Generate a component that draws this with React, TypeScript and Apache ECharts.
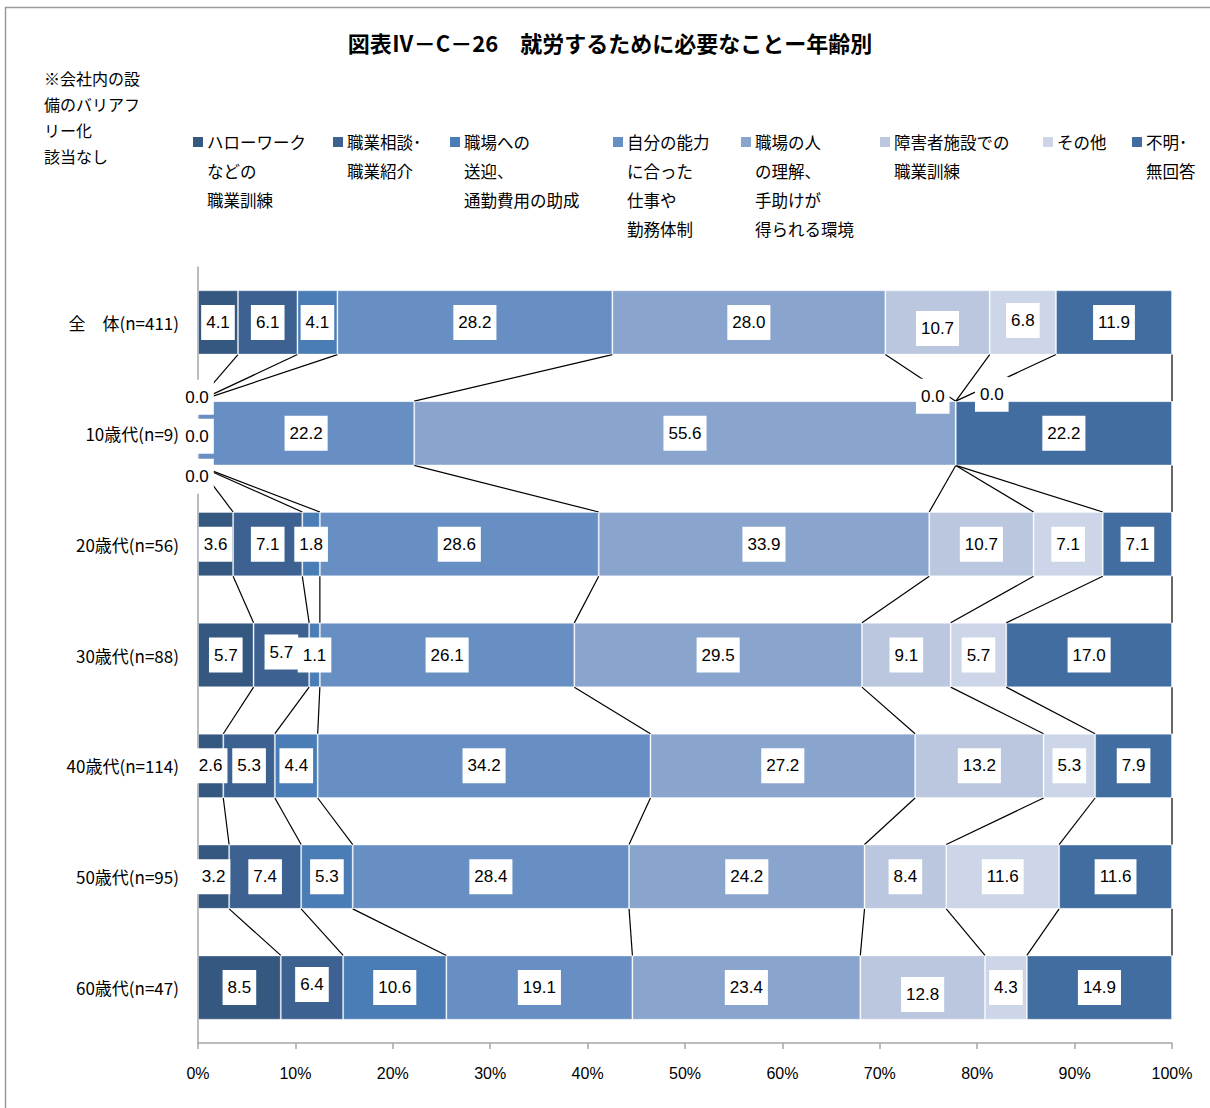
import React, { useEffect, useRef } from "react";
import * as echarts from "echarts";

const categories = [
  "全　体(n=411)",
  "10歳代(n=9)",
  "20歳代(n=56)",
  "30歳代(n=88)",
  "40歳代(n=114)",
  "50歳代(n=95)",
  "60歳代(n=47)",
];

const seriesNames = [
  "ハローワーク\nなどの\n職業訓練",
  "職業相談･\n職業紹介",
  "職場への\n送迎、\n通勤費用の助成",
  "自分の能力\nに合った\n仕事や\n勤務体制",
  "職場の人\nの理解、\n手助けが\n得られる環境",
  "障害者施設での\n職業訓練",
  "その他",
  "不明･\n無回答",
];

const helloWork = [4.1, 0.0, 3.6, 5.7, 2.6, 3.2, 8.5];
const consult = [6.1, 0.0, 7.1, 5.7, 5.3, 7.4, 6.4];
const commute = [4.1, 0.0, 1.8, 1.1, 4.4, 5.3, 10.6];
const fitJob = [28.2, 22.2, 28.6, 26.1, 34.2, 28.4, 19.1];
const understanding = [28.0, 55.6, 33.9, 29.5, 27.2, 24.2, 23.4];
const facility = [10.7, 0.0, 10.7, 9.1, 13.2, 8.4, 12.8];
const other = [6.8, 0.0, 7.1, 5.7, 5.3, 11.6, 4.3];
const noAnswer = [11.9, 22.2, 7.1, 17.0, 7.9, 11.6, 14.9];

const seriesValues = [helloWork, consult, commute, fitJob, understanding, facility, other, noAnswer];

const colors = ["#345880", "#3D6191", "#4A7DB6", "#678FC3", "#8AA5CD", "#BAC7DF", "#CCD6E8", "#426DA0"];

const noteText = "※会社内の設\n備のバリアフ\nリー化\n該当なし";
const titleText = "図表Ⅳ－C－26　就労するために必要なことー年齢別";

// label nudges (series index, row index) -> [dx, dy]
const labelOffsets: Record<string, number[]> = {
  "0,1": [-1, -36],
  "1,1": [-1, 3],
  "2,1": [-1, 43],
  "5,1": [-23, -37],
  "6,1": [36, -39],
  "5,0": [0, 6],
  "6,0": [0, -2],
  "5,6": [0, 7],
  "1,6": [0, -3],
  "1,3": [0, -3],
};

const legendX = [193, 333, 450, 613, 741, 880, 1043, 1132];

const BAR_FRAC = 0.58;

export default function App() {
  const ref = useRef<HTMLDivElement>(null);
  useEffect(() => {
    if (!ref.current) return;
    const chart = echarts.init(ref.current, null, { renderer: "svg" });

    const rowSums = categories.map((_, r) => seriesValues.reduce((s, arr) => s + arr[r], 0));
    const norm = seriesValues.map((arr) => arr.map((v, r) => (v / rowSums[r]) * 100));
    const cum = categories.map((_, r) => {
      let acc = 0;
      return norm.map((arr) => {
        acc += arr[r];
        return acc;
      });
    });
    const lineData: number[][] = [];
    for (let r = 0; r < categories.length - 1; r++) {
      for (let k = 0; k < seriesValues.length; k++) {
        lineData.push([cum[r][k], cum[r + 1][k], r]);
      }
    }

    const labelFont = "'Liberation Sans', Arial, sans-serif";

    const barSeries = seriesNames.map((name, si) => ({
      name,
      type: "bar",
      stack: "total",
      barWidth: BAR_FRAC * 100 + "%",
      z: 3,
      itemStyle: { color: colors[si], borderColor: "rgba(255,255,255,0.35)", borderWidth: 1 },
      data: norm[si].map((v, r) => {
        const off = labelOffsets[si + "," + r];
        const item: any = { value: v };
        if (off) item.label = { offset: off };
        return item;
      }),
      label: {
        show: true,
        position: "inside",
        formatter: (p: any) => seriesValues[si][p.dataIndex].toFixed(1),
        backgroundColor: "#ffffff",
        padding: [8, 5, 9, 5],
        color: "#000",
        fontSize: 17,
        fontWeight: "normal",
        lineHeight: 18,
        fontFamily: labelFont,
      },
    }));

    const legendGraphics: any[] = [];
    seriesNames.forEach((name, i) => {
      legendGraphics.push({
        type: "rect",
        shape: { x: legendX[i], y: 137, width: 10, height: 10 },
        style: { fill: colors[i] },
      });
      legendGraphics.push({
        type: "text",
        x: legendX[i] + 14,
        y: 127.5,
        style: {
          text: name,
          font: "16.5px 'Noto Sans CJK JP', sans-serif",
          lineHeight: 29,
          fill: "#000",
          textVerticalAlign: "top",
        },
      });
    });

    chart.setOption({
      animation: false,
      backgroundColor: "#fff",
      grid: { left: 198, right: 38, top: 267, bottom: 65, containLabel: false },
      xAxis: {
        type: "value",
        min: 0,
        max: 100,
        interval: 10,
        axisLine: { show: true, lineStyle: { color: "#A6A6A6", width: 1.5 } },
        axisTick: { show: true, length: 6, lineStyle: { color: "#A6A6A6", width: 1.5 } },
        splitLine: { show: false },
        axisLabel: {
          formatter: "{value}%",
          color: "#000",
          fontSize: 16,
          fontWeight: "normal",
          margin: 22,
          fontFamily: labelFont,
        },
      },
      yAxis: {
        type: "category",
        data: categories,
        inverse: true,
        axisLine: { show: true, lineStyle: { color: "#A6A6A6", width: 1.5 } },
        axisTick: { show: false },
        axisLabel: {
          color: "#000",
          fontSize: 17,
          margin: 19,
          fontFamily: "'Noto Sans CJK JP', sans-serif",
        },
      },
      series: [
        {
          type: "custom",
          name: "series-lines",
          coordinateSystem: "cartesian2d",
          silent: true,
          z: 1,
          clip: false,
          encode: { x: [0, 1], y: 2 },
          data: lineData,
          renderItem: (params: any, api: any) => {
            const x1 = api.value(0);
            const x2 = api.value(1);
            const r = api.value(2);
            const p1 = api.coord([x1, r]);
            const p2 = api.coord([x2, r + 1]);
            const band = api.size([0, 1])[1];
            const half = (band * BAR_FRAC) / 2;
            return {
              type: "line",
              shape: { x1: p1[0], y1: p1[1] + half, x2: p2[0], y2: p2[1] - half },
              style: { stroke: "#000", lineWidth: 1.2 },
            };
          },
        },
        ...barSeries,
      ],
      graphic: [
        {
          type: "rect",
          shape: { x: 5.5, y: 7.5, width: 1400, height: 1300 },
          style: { fill: "none", stroke: "#9A9A9A", lineWidth: 1.5 },
          silent: true,
          z: -1,
        },
        {
          type: "text",
          x: 610,
          y: 42,
          style: {
            text: titleText,
            font: "bold 22px 'Noto Sans CJK JP', sans-serif",
            fill: "#000",
            textAlign: "center",
            textVerticalAlign: "middle",
          },
        },
        {
          type: "text",
          x: 44,
          y: 65,
          style: {
            text: noteText,
            font: "16px 'Noto Sans CJK JP', sans-serif",
            lineHeight: 26,
            fill: "#000",
            textVerticalAlign: "top",
          },
        },
        ...legendGraphics,
      ],
    });
    return () => chart.dispose();
  }, []);
  return (
    <div
      ref={ref}
      style={{ position: "fixed", left: 0, top: 0, width: 1210, height: 1108, background: "#fff" }}
    />
  );
}
